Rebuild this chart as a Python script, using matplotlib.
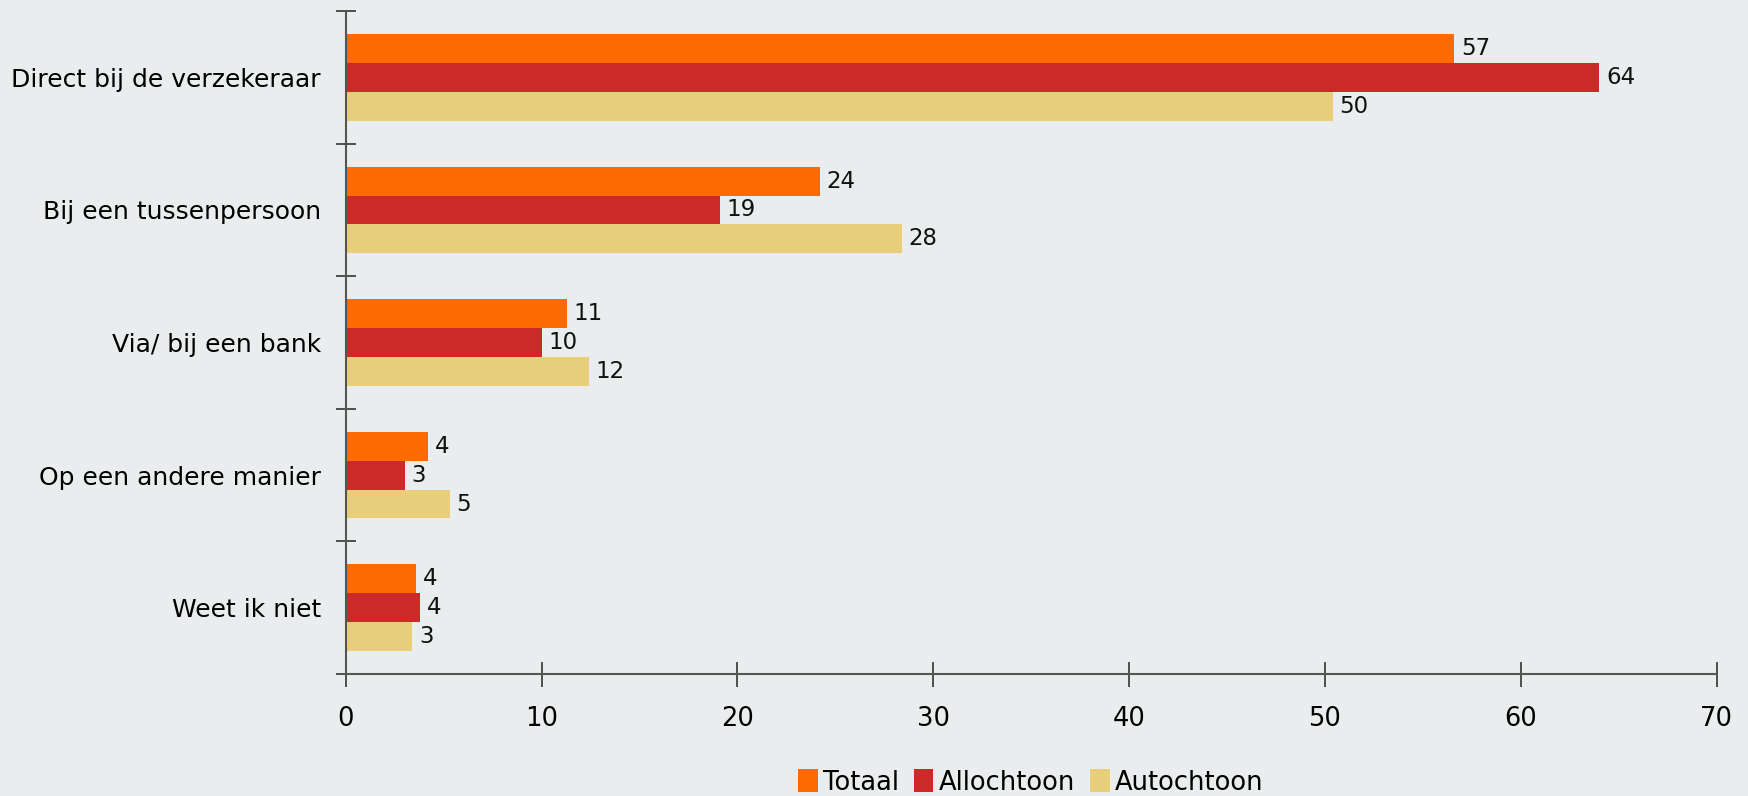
import numpy as np
import matplotlib
matplotlib.use('Agg')
import matplotlib.pyplot as plt
from matplotlib import font_manager

categories = ['Direct bij de verzekeraar', 'Bij een tussenpersoon', 'Via/ bij een bank',
              'Op een andere manier', 'Weet ik niet']
series = ['Totaal', 'Allochtoon', 'Autochtoon']
totaal = [56.6, 24.2, 11.3, 4.2, 3.6]
allochtoon = [64.0, 19.1, 10.0, 3.0, 3.8]
autochtoon = [50.4, 28.4, 12.4, 5.3, 3.4]
colors = ['#FD6A02', '#CC2929', '#E8CE7A']
bg = '#E9EDEE'

names = set(f.name for f in font_manager.fontManager.ttflist)
print(sorted(n for n in names if 'Liberation' in n or 'Narrow' in n or 'Condensed' in n))
plt.rcParams['font.family'] = ['DejaVu Sans']

fig = plt.figure(figsize=(17.49, 7.96), dpi=100, facecolor=bg)
ax = fig.add_axes([0.1977, 0.1533, 0.7838, 0.8327])
ax.set_facecolor(bg)

y = np.arange(len(categories))
h = 0.218
for k, (vals, name) in enumerate(zip([totaal, allochtoon, autochtoon], series)):
    pos = y + (k - 1) * h
    ax.barh(pos, vals, height=h, color=colors[k], label=name, linewidth=0)
    for p, v in zip(pos, vals):
        ax.text(v + 0.35, p, '%.0f' % v, va='center', ha='left', fontsize=16.5, color='#111111')

ax.set_xlim(0, 70)
ax.set_ylim(len(categories) - 0.5, -0.5)
ax.set_xticks(np.arange(0, 71, 10))
ax.set_yticks(np.arange(-0.5, len(categories), 1.0))
ax.set_yticklabels([])
ax.set_yticks(y, minor=True)
ax.set_yticklabels(categories, minor=True, fontsize=18)
ax.tick_params(axis='y', which='minor', length=0, pad=18)
ax.tick_params(axis='y', which='major', direction='inout', length=15, width=1.2, color='#333333')
ax.tick_params(axis='x', direction='inout', length=18, width=1.2, color='#333333',
               labelsize=18.5, pad=14)
for s in ['top', 'right']:
    ax.spines[s].set_visible(False)
for s in ['left', 'bottom']:
    ax.spines[s].set_color('#555555')
    ax.spines[s].set_linewidth(1.5)

fig.legend(loc='center', bbox_to_anchor=(0.5894, 0.017), ncol=3, frameon=False,
           fontsize=18.5, handlelength=0.75, handleheight=1.0, handletextpad=0.2,
           columnspacing=0.6)

fig.savefig('out.png', dpi=100, facecolor=bg)
